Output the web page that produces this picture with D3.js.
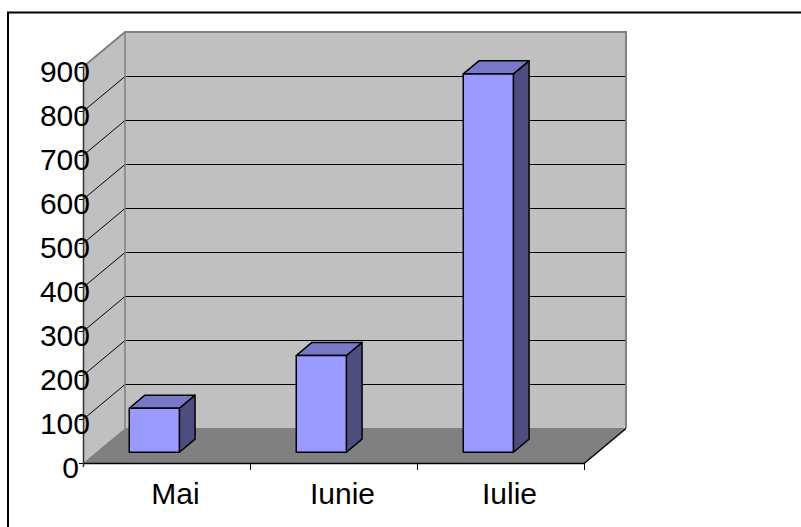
<!DOCTYPE html>
<html>
<head>
<meta charset="utf-8">
<script src="https://cdn.jsdelivr.net/npm/d3@7"></script>
<style>
  html, body { margin: 0; padding: 0; background: #fff; }
  svg { display: block; }
</style>
</head>
<body>
<div id="chart"></div>
<script>
// data
const categories = ["Mai", "Iunie", "Iulie"];
const values = [100, 220, 860];
const yTicks = [0, 100, 200, 300, 400, 500, 600, 700, 800, 900];

(function () {
  const width = 801;
  const height = 527;

  // front plane of the plot and the depth offset of the 3d box
  const left = 83, right = 584, bottom = 463, top = 67;
  const depthX = 42, depthY = 35;

  const svg = d3
    .select("#chart")
    .append("svg")
    .attr("width", width)
    .attr("height", height);

  const x = d3.scaleBand().domain(categories).range([left, right]).padding(0);
  const y = d3.scaleLinear().domain([0, 900]).range([bottom, top]);

  // oblique projection, d = 0 front, d = 1 back wall
  const P = (px, py, d) => [px + d * depthX, py - d * depthY];
  const pts = (arr) => arr.map((p) => p.join(",")).join(" ");

  // outer border (right / bottom edges fall outside the picture)
  svg.append("rect")
    .attr("x", 8).attr("y", 12.5)
    .attr("width", 820).attr("height", 540)
    .attr("fill", "none").attr("stroke", "#000").attr("stroke-width", 2);

  // left wall
  svg.append("polygon")
    .attr("points", pts([[left, y(900)], P(left, y(900), 1), P(left, y(0), 1), [left, y(0)]]))
    .attr("fill", "#c0c0c0");

  // back wall
  svg.append("polygon")
    .attr("points", pts([P(left, y(900), 1), P(right, y(900), 1), P(right, y(0), 1), P(left, y(0), 1)]))
    .attr("fill", "#c0c0c0");

  // floor
  svg.append("polygon")
    .attr("points", pts([[left, y(0)], P(left, y(0), 1), P(right, y(0), 1), [right, y(0)]]))
    .attr("fill", "#808080");

  // gridlines: diagonal on the left wall, horizontal on the back wall
  const grid = svg.append("g").attr("stroke", "#000").attr("stroke-width", 1);
  yTicks.filter((v) => v > 0 && v < 900).forEach((v) => {
    const yy = y(v) + 0.5;
    const a = [left, yy], b = P(left, yy, 1), c = P(right, yy, 1);
    grid.append("polyline").attr("points", pts([a, b, c])).attr("fill", "none");
  });

  // wall borders
  svg.append("polyline")
    .attr("points", pts([[left, y(900)], P(left, y(900), 1), P(right, y(900), 1), P(right, y(0), 1)]))
    .attr("fill", "none").attr("stroke", "#808080").attr("stroke-width", 2);
  svg.append("line")
    .attr("x1", P(left, 0, 1)[0]).attr("x2", P(left, 0, 1)[0])
    .attr("y1", P(left, y(900), 1)[1]).attr("y2", P(left, y(0), 1)[1])
    .attr("stroke", "#808080").attr("stroke-width", 1.5);

  // floor edges
  svg.append("polyline")
    .attr("points", pts([[left, y(0) + 0.5], [right, y(0) + 0.5], P(right, y(0) + 0.5, 1)]))
    .attr("fill", "none").attr("stroke", "#000").attr("stroke-width", 1.5);

  // bars
  const d0 = 0.306, d1 = 0.68;
  categories.forEach((cat, i) => {
    const bx0 = x(cat) + x.bandwidth() * 0.2;
    const bx1 = x(cat) + x.bandwidth() * 0.5;
    const yt = y(values[i]), yb = y(0);
    const fTL = P(bx0, yt, d0), fTR = P(bx1, yt, d0), fBR = P(bx1, yb, d0), fBL = P(bx0, yb, d0);
    const bTL = P(bx0, yt, d1), bTR = P(bx1, yt, d1), bBR = P(bx1, yb, d1);
    const g = svg.append("g").attr("stroke", "#000").attr("stroke-width", 1.5).attr("stroke-linejoin", "round");
    g.append("polygon").attr("points", pts([fTR, bTR, bBR, fBR])).attr("fill", "#4d4d80");
    g.append("polygon").attr("points", pts([fTL, bTL, bTR, fTR])).attr("fill", "#7878c8");
    g.append("polygon").attr("points", pts([fTL, fTR, fBR, fBL])).attr("fill", "#9999ff");
  });

  // value axis
  svg.append("line")
    .attr("x1", left + 0.5).attr("x2", left + 0.5)
    .attr("y1", y(900)).attr("y2", y(0) + 4)
    .attr("stroke", "#333").attr("stroke-width", 1.5);
  yTicks.forEach((v) => {
    svg.append("line")
      .attr("x1", left - 4).attr("x2", left)
      .attr("y1", y(v) + 0.5).attr("y2", y(v) + 0.5)
      .attr("stroke", "#000");
    const label = String(v);
    svg.append("text")
      .attr("x", label.length === 1 ? 79 : 90)
      .attr("y", y(v) + 15)
      .attr("text-anchor", "end")
      .attr("font-family", "Liberation Sans, Arial, sans-serif")
      .attr("font-size", "30px")
      .attr("fill", "#000")
      .text(label);
  });

  // category axis ticks and labels
  x.domain().forEach((cat) => {
    svg.append("line")
      .attr("x1", x(cat) + x.bandwidth() + 0.5).attr("x2", x(cat) + x.bandwidth() + 0.5)
      .attr("y1", y(0)).attr("y2", y(0) + 7)
      .attr("stroke", "#000");
    svg.append("text")
      .attr("x", x(cat) + x.bandwidth() / 2 + 9)
      .attr("y", 504)
      .attr("text-anchor", "middle")
      .attr("font-family", "Liberation Sans, Arial, sans-serif")
      .attr("font-size", "30px")
      .attr("fill", "#000")
      .text(cat);
  });
})();
</script>
</body>
</html>
